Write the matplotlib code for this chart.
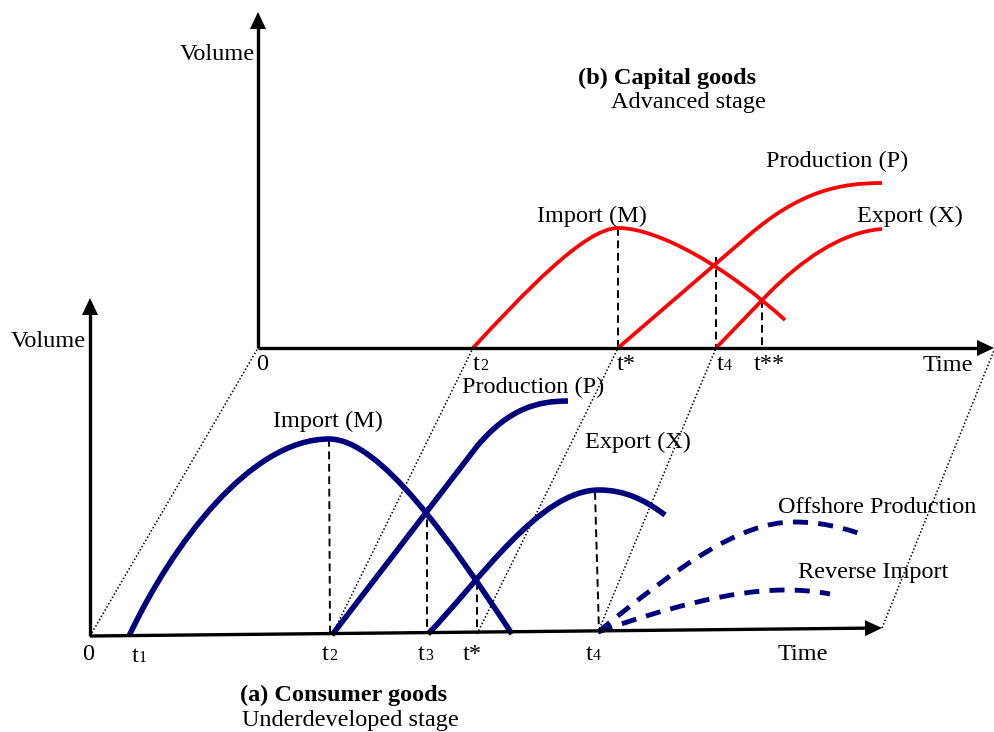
import matplotlib
matplotlib.use("Agg")
import numpy as np
import matplotlib.pyplot as plt
from matplotlib.path import Path
from matplotlib.patches import PathPatch, Polygon

plt.rcParams['font.family'] = ['Liberation Serif', 'DejaVu Serif']

# Canvas units: pixels, origin top-left.
W, H = 995, 732

# ---------------- panel (b): capital goods, advanced stage ----------------
b_origin = (258, 348)
b_time_end = (994, 348)
b_volume_top = (258, 12)

# cubic Bezier chains: P0, C1, C2, P1, C1, C2, P2 ...
b_import = [(473, 348), (523, 294), (585, 228), (618, 228),
            (660, 228), (730, 270), (785, 320)]
b_production = [(618, 348), (618, 348), (748, 236), (748, 236),
                (800, 191), (840, 183), (882, 183)]
b_export = [(716, 348), (716, 348), (770, 292), (770, 292),
            (800, 262), (840, 232), (882, 229)]

b_guides = [[(618, 228), (618, 348)],
            [(716, 257), (716, 348)],
            [(762, 300), (762, 348)]]

# ---------------- panel (a): consumer goods, underdeveloped stage ----------------
a_origin = (90, 636)
a_time_end = (882, 628)
a_volume_top = (90, 298)

a_import = [(129, 636), (172, 545), (250, 439), (329, 439),
            (380, 439), (450, 540), (512, 634)]
a_production = [(332, 635), (332, 635), (478, 445), (478, 445),
                (510, 408), (538, 401), (568, 401)]
a_export = [(428, 634), (480, 580), (540, 490), (599, 490),
            (625, 490), (645, 500), (665, 515)]
a_offshore = [(598, 632), (680, 565), (740, 522), (794, 522),
              (820, 522), (840, 527), (858, 533)]
a_reverse = [(598, 632), (660, 610), (730, 590), (785, 590),
             (800, 590), (815, 591), (830, 594)]

a_guides = [[(329, 439), (330, 636)],
            [(427, 507), (427, 634)],
            [(477, 582), (477, 634)],
            [(595, 492), (599, 632)]]

# links between matching instants of the two stages
links = [[(90, 636), (258, 348)],
         [(332, 635), (473, 348)],
         [(477, 634), (618, 348)],
         [(598, 632), (716, 348)],
         [(882, 628), (995, 348)]]

# tick labels: (text, subscript, x, baseline y)
b_ticks = [("0", "", 256, 370), ("t", "2", 473, 370), ("t*", "", 617, 370),
           ("t", "4", 717, 370), ("t**", "", 754, 370)]
a_ticks = [("0", "", 82, 660), ("t", "1", 132, 662), ("t", "2", 322, 660),
           ("t", "3", 418, 660), ("t*", "", 463, 660), ("t", "4", 586, 660)]

# curve labels: (text, x, baseline y)
b_labels = [("Import (M)", 537, 222), ("Production (P)", 766, 167),
            ("Export (X)", 857, 222)]
a_labels = [("Import (M)", 273, 427), ("Production (P)", 462, 393),
            ("Export (X)", 585, 448), ("Offshore Production", 778, 513),
            ("Reverse Import", 798, 578)]

RED = "#ff0000"
NAVY = "#00007f"
FS = 17.5
SUB_FS = 11.5

fig = plt.figure(figsize=(W / 100, H / 100), dpi=100)
ax = fig.add_axes([0, 0, 1, 1])
ax.set_xlim(0, W)
ax.set_ylim(H, 0)
ax.axis("off")


def bezier(ax, pts, **kw):
    n = (len(pts) - 1) // 3
    codes = [Path.MOVETO] + [Path.CURVE4] * (3 * n)
    ax.add_patch(PathPatch(Path(pts, codes), fill=False, **kw))


def arrow_axis(ax, start, tip, length=17, half=8):
    s = np.array(start, float)
    t = np.array(tip, float)
    d = (t - s) / np.hypot(*(t - s))
    n = np.array([-d[1], d[0]])
    base = t - d * length
    ax.plot([s[0], base[0] + d[0] * 2], [s[1], base[1] + d[1] * 2],
            color="black", lw=2.4, solid_capstyle="butt", zorder=4)
    ax.add_patch(Polygon([t, base + n * half, base - n * half],
                         closed=True, color="black", lw=0, zorder=4))


def ticks(ax, items):
    for txt, sub, x, y in items:
        ax.text(x, y, txt, fontsize=FS, ha="left", va="baseline")
        if sub:
            ax.text(x + 7, y, sub, fontsize=SUB_FS, ha="left", va="baseline")


# dotted links
for seg in links:
    (x0, y0), (x1, y1) = seg
    ax.plot([x0, x1], [y0, y1], color="black", lw=1.1,
            linestyle=(0, (1, 1.4)), zorder=1)

# axes
arrow_axis(ax, b_origin, b_volume_top)
arrow_axis(ax, b_origin, b_time_end)
arrow_axis(ax, a_origin, a_volume_top)
arrow_axis(ax, a_origin, a_time_end)

# guide lines
for seg in b_guides + a_guides:
    (x0, y0), (x1, y1) = seg
    ax.plot([x0, x1], [y0, y1], color="black", lw=1.4,
            linestyle=(0, (4, 2.4)), zorder=2)

# stage (b) curves
for c in (b_import, b_production, b_export):
    bezier(ax, c, edgecolor=RED, lw=2.7, capstyle="butt", zorder=3)

# stage (a) curves
for c in (a_import, a_production, a_export):
    bezier(ax, c, edgecolor=NAVY, lw=4.0, capstyle="butt", zorder=3)
for c in (a_offshore, a_reverse):
    bezier(ax, c, edgecolor=NAVY, lw=3.5, capstyle="butt",
           linestyle=(0, (3.1, 2.1)), zorder=3)

# texts
ax.text(255, 60, "Volume", fontsize=FS, ha="right", va="baseline")
ax.text(86, 347, "Volume", fontsize=FS, ha="right", va="baseline")
ax.text(923, 371, "Time", fontsize=FS, ha="left", va="baseline")
ax.text(778, 660, "Time", fontsize=FS, ha="left", va="baseline")

ticks(ax, b_ticks)
ticks(ax, a_ticks)

for txt, x, y in b_labels + a_labels:
    ax.text(x, y, txt, fontsize=FS, ha="left", va="baseline")

ax.text(578, 84, "(b) Capital goods", fontsize=FS, fontweight="bold",
        ha="left", va="baseline")
ax.text(611, 108, "Advanced stage", fontsize=FS, ha="left", va="baseline")
ax.text(240, 701, "(a) Consumer goods", fontsize=FS, fontweight="bold",
        ha="left", va="baseline")
ax.text(242, 726, "Underdeveloped stage", fontsize=FS, ha="left",
        va="baseline")

fig.savefig("out.png", dpi=100)
